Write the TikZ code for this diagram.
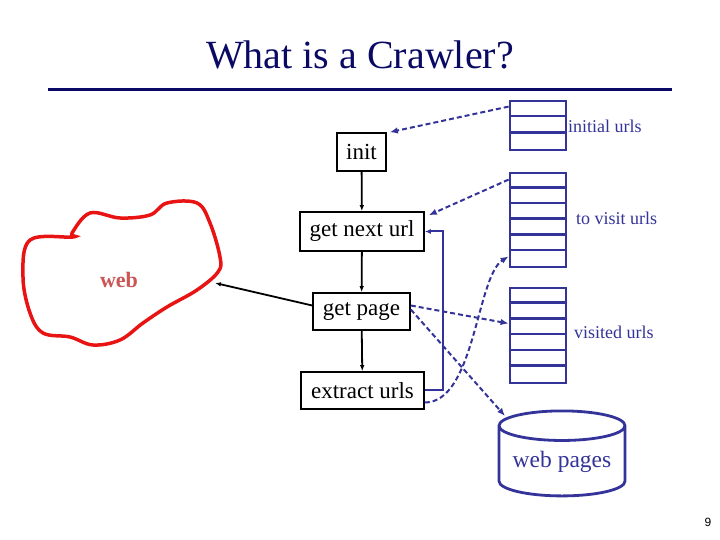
\documentclass[tikz,border=0pt]{standalone}
\usepackage{fontspec}
\setmainfont{Liberation Serif}
\newfontfamily\numfont{Liberation Sans}
\usetikzlibrary{arrows.meta,shapes.geometric}
\definecolor{qblue}{RGB}{51,51,153}
\definecolor{navy}{RGB}{10,10,100}
\definecolor{webred}{RGB}{232,20,20}
\definecolor{webtext}{RGB}{204,85,85}
\begin{document}
\begin{tikzpicture}[x=1pt,y=1pt,
  stepbox/.style={draw=black,line width=1.6pt,inner sep=0pt,font=\fontsize{23}{23}\selectfont},
  queue/.style={draw=qblue,line width=2.8pt,minimum width=56,inner sep=0pt},
  qlabel/.style={text=qblue,font=\fontsize{18}{18}\selectfont,anchor=west,inner sep=0pt},
  flow/.style={black,line width=1.8pt,-{Latex[length=6pt,width=4.5pt]}},
  qflow/.style={qblue,line width=2pt,dash pattern=on 5pt off 3pt,-{Latex[length=8pt,width=6.5pt]}}]
\useasboundingbox (0,0) rectangle (720,540);
\node[text=navy,font=\fontsize{40}{40}\selectfont] (title) at (360,485) {What is a Crawler?};
\draw[navy,line width=3pt] (48,450) -- (672,450);
\node[stepbox,minimum width=49,minimum height=38] (init) at (361.5,388) {init};
\node[stepbox,minimum width=124,minimum height=39] (next) at (362,308.5) {get next url};
\node[stepbox,minimum width=97,minimum height=37] (page) at (361.5,228.5) {get page};
\node[stepbox,minimum width=123,minimum height=37] (extract) at (362.5,149.5) {extract urls};
\draw[flow] (init) -- (next);
\draw[flow] (next) -- (page);
\draw[flow] (page) -- (extract);
\node[queue,minimum height=49] (initq) at (538,414.5) {};
\foreach \i in {1,2}
  \draw[qblue,line width=2.8pt] ([yshift={-\i*16.33}]initq.north west) -- ([yshift={-\i*16.33}]initq.north east);
\node[queue,minimum height=94] (tvq) at (538,320) {};
\foreach \i in {1,...,5}
  \draw[qblue,line width=2.8pt] ([yshift={-\i*15.67}]tvq.north west) -- ([yshift={-\i*15.67}]tvq.north east);
\node[queue,minimum height=95] (visq) at (538,204.5) {};
\foreach \i in {1,...,5}
  \draw[qblue,line width=2.8pt] ([yshift={-\i*15.83}]visq.north west) -- ([yshift={-\i*15.83}]visq.north east);
\node[qlabel] (initl) at (568,414) {initial urls};
\node[qlabel] (tvl) at (576,322) {to visit urls};
\node[qlabel] (visl) at (574,208) {visited urls};
\node[cylinder,shape border rotate=90,draw=qblue,line width=2.8pt,aspect=0.3,
  minimum width=126,minimum height=85,inner sep=0pt,text=qblue,
  font=\fontsize{23.5}{23.5}\selectfont] (pages) at (562,78.5) {web pages};
\coordinate (pagestop) at (505,124);
\draw[webred,line width=3.5pt] plot[smooth cycle,tension=0.6] coordinates {
  (30,300) (73,303) (72,307) (90,327) (120,322) (150,325) (167,337) (197,337)
  (210,317) (220,283) (218,268) (197,250) (167,233) (143,217) (120,200)
  (93,195) (70,203) (43,207) (30,227) (23,263)};
\node[text=webtext,font=\bfseries\fontsize{22}{22}\selectfont] (web) at (119,260) {web};
\coordinate (webin) at (215,257);
\draw[flow] ([yshift=6]page.west) -- (webin);
\draw[qflow] ([yshift=-7]initq.north west) -- ([xshift=3]init.north east);
\draw[qflow] ([yshift=-8]tvq.north west) -- ([shift={(4,-4)}]next.north east);
\draw[qflow] ([yshift=6]page.east) -- ([yshift=12]visq.west);
\draw[qflow] ([yshift=2]page.east) -- (pagestop);
\draw[qflow] ([yshift=-12]extract.east) .. controls +(50,0) and +(-32,-20) .. ([yshift=12]tvq.south west);
\draw[qblue,line width=2pt,-{Latex[length=6pt,width=5pt]}] (extract.east) -- ++(18,0) |- (next.east);
\node[font=\numfont\fontsize{12}{12}\selectfont] (num) at (708,18) {9};
\end{tikzpicture}
\end{document}
